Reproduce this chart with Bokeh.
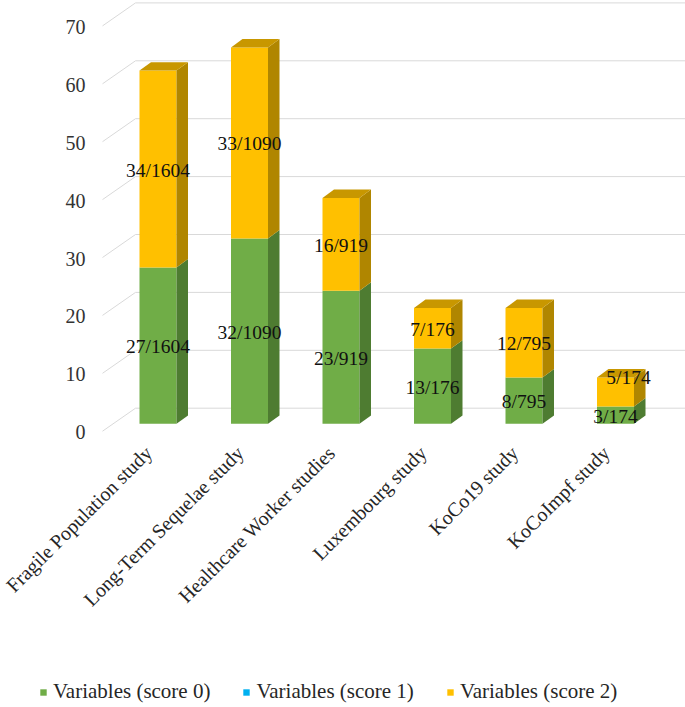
import math
from bokeh.plotting import figure
from bokeh.models import Range1d, Legend, LegendItem, ColumnDataSource
from bokeh.embed import file_html
from bokeh.resources import INLINE
from bokeh.core.properties import value

# ---------------- data ----------------
studies = ["Fragile Population study", "Long-Term Sequelae study", "Healthcare Worker studies",
           "Luxembourg study", "KoCo19 study", "KoCoImpf study"]
totals = [1604, 1090, 919, 176, 795, 174]
score0 = [27, 32, 23, 13, 8, 3]
score1 = [0, 0, 0, 0, 0, 0]
score2 = [34, 33, 16, 7, 12, 5]
series_names = ["Variables (score 0)", "Variables (score 1)", "Variables (score 2)"]
y_ticks = [0, 10, 20, 30, 40, 50, 60, 70]

# ---------------- style / geometry ----------------
FONT = "Liberation Serif"
front_colors = ["#70AD47", "#00B0F0", "#FFC000"]
side_colors = ["#4E7C31", "#007BA8", "#B08600"]
top_colors = ["#5E9239", "#0094CB", "#C89700"]
W, H = 685, 707
PXX = 91.5      # px per category
PXY = 5.79      # px per unit
X0, Y0 = 157.5, 431.7     # screen position of category 0 / value 0 (label plane)
half_w = 18.5 / PXX
lift = 8.4 / PXY          # bar front face lift over label plane
ddx = 11.5 / PXX          # 3D depth offset
ddy = 8.4 / PXY
x_lo, x_hi = (0 - X0) / PXX, (W - X0) / PXX
y_lo, y_hi = (Y0 - H) / PXY, (Y0 - 0) / PXY

p = figure(width=W, height=H, output_backend="svg", toolbar_location=None,
           x_range=Range1d(x_lo, x_hi), y_range=Range1d(y_lo, y_hi),
           x_axis_location=None, y_axis_location=None,
           min_border_left=0, min_border_right=0, min_border_top=0, min_border_bottom=0)
p.outline_line_color = None
p.grid.visible = False
p.background_fill_color = "white"
p.border_fill_color = "white"

# gridlines (3D floor / back wall style)
gx_front, gx_back = (102 - X0) / PXX, (135 - X0) / PXX
g_xs = [[gx_front, gx_back, x_hi] for v in y_ticks]
g_ys = [[v + 1.0 / PXY, v + 24.0 / PXY, v + 24.0 / PXY] for v in y_ticks]
p.multi_line(g_xs, g_ys, line_color="#D9D9D9", line_width=1)

# y tick labels
p.text(x=[(85 - X0) / PXX] * len(y_ticks), y=y_ticks, text=[str(v) for v in y_ticks],
       text_align="right", text_baseline="middle",
       text_font=value(FONT), text_font_size="20px", text_color="#333333")

# category labels (rotated 45 degrees, ending just under each bar)
cat_y = (Y0 - 449) / PXY
p.text(x=[i - 9.5 / PXX for i in range(len(studies))], y=[cat_y] * len(studies), text=studies,
       angle=math.pi / 4, text_align="right", text_baseline="middle",
       text_font=value(FONT), text_font_size="20px", text_color="#262626")

# bars
series = [score0, score1, score2]
n = len(studies)
cum = [lift] * n
front_renderers = []
label_x, label_y, label_t, label_dx, label_dy = [], [], [], [], []
for k, vals in enumerate(series):
    left = [i - half_w for i in range(n)]
    right = [i + half_w for i in range(n)]
    bottom = list(cum)
    top = [cum[i] + vals[i] for i in range(n)]
    src = ColumnDataSource(dict(left=left, right=right, bottom=bottom, top=top))
    r = p.quad(left="left", right="right", bottom="bottom", top="top", source=src,
               fill_color=front_colors[k], line_color=None)
    front_renderers.append(r)
    sx, sy = [], []
    for i in range(n):
        if vals[i] > 0:
            sx.append([right[i], right[i] + ddx, right[i] + ddx, right[i]])
            sy.append([bottom[i], bottom[i] + ddy, top[i] + ddy, top[i]])
    if sx:
        p.patches(sx, sy, fill_color=side_colors[k], line_color=None)
    for i in range(n):
        if vals[i] > 0:
            label_x.append(i)
            label_y.append((bottom[i] + top[i]) / 2)
            label_t.append(f"{vals[i]}/{totals[i]}")
            # Excel moved the small top label of the last bar up/right
            if k == 2 and i == n - 1:
                label_dx.append(13)
                label_dy.append(-14)
            else:
                label_dx.append(0)
                label_dy.append(1)
    cum = top

# top faces
tx, ty = [], []
for i in range(n):
    T = cum[i]
    l, r_ = i - half_w, i + half_w
    tx.append([l, r_, r_ + ddx, l + ddx])
    ty.append([T, T, T + ddy, T + ddy])
p.patches(tx, ty, fill_color=top_colors[2], line_color=None)

# data labels
lsrc = ColumnDataSource(dict(x=label_x, y=label_y, t=label_t, dx=label_dx, dy=label_dy))
p.text(x="x", y="y", text="t", source=lsrc, x_offset="dx", y_offset="dy",
       text_align="center", text_baseline="middle",
       text_font=value(FONT), text_font_size="19.5px", text_color="#111111")

# legend
legend = Legend(items=[LegendItem(label=series_names[k], renderers=[front_renderers[k]]) for k in range(3)],
                orientation="horizontal", location=(39, 3),
                glyph_width=8, glyph_height=8, label_standoff=6, spacing=32,
                padding=0, margin=0, border_line_color=None, background_fill_alpha=0,
                label_text_font=FONT, label_text_font_size="21px", label_text_color="#262626",
                label_height=20)
p.add_layout(legend, "center")

open("out.html", "w").write(file_html(p, INLINE))
